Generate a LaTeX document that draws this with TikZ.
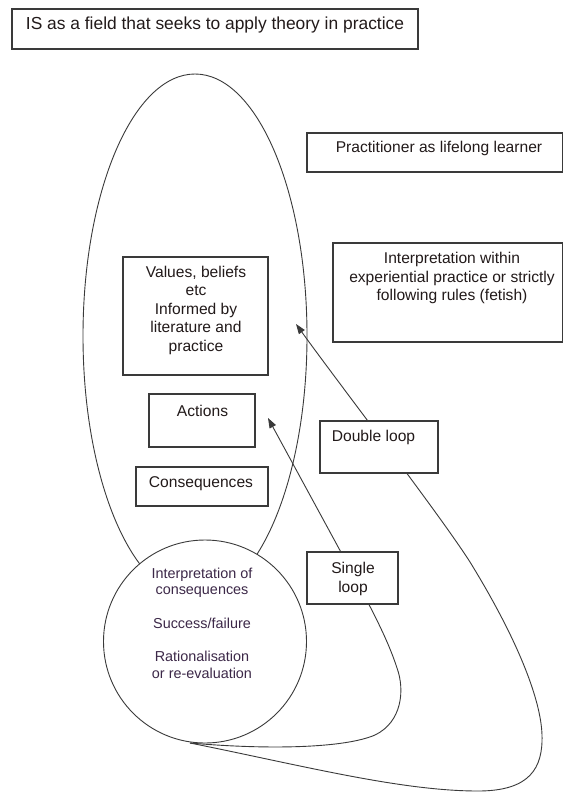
\documentclass[tikz,border=0pt]{standalone}
\usepackage{fontspec}
\setmainfont{Liberation Sans}
\usetikzlibrary{shapes.geometric,arrows.meta}
\definecolor{ink}{HTML}{3A3A3A}
\definecolor{txt}{HTML}{221A1A}
\definecolor{circtxt}{HTML}{3C2848}

\begin{document}
\begin{tikzpicture}[x=1pt,y=-1pt,
  frame/.style={draw=ink, line width=1.1pt, fill=white, inner sep=0pt},
  outline/.style={draw=ink, line width=0.9pt, inner sep=0pt},
  boxtext/.style={text=txt, font=\fontsize{15.6}{18.5}\selectfont, align=center, inner sep=0pt},
  loopline/.style={draw=ink, line width=0.9pt, -{Triangle[length=10pt,width=7pt]}}]
\useasboundingbox (0,0) rectangle (562,792);
\fill[white] (0,0) rectangle (562,792);

% heading
\node[frame, minimum width=406pt, minimum height=40pt] (title) at (215,29) {};
\node[boxtext, font=\fontsize{17.4}{20}\selectfont] (titletext) at (215,25)
  {IS as a field that seeks to apply theory in practice};

% the practitioner's field and the interpretation cycle
\node[outline, ellipse, minimum width=224pt, minimum height=524pt] (field) at (195,336) {};
\node[outline, fill=white, circle, minimum size=203pt] (cycle) at (205,641.5) {};
\node[boxtext, text=circtxt, font=\fontsize{14.4}{16.7}\selectfont] (cycletext) at (202,623)
  {Interpretation of\\consequences\\[16.7pt]Success/failure\\[16.7pt]Rationalisation\\or re-evaluation};

% loop connectors
\coordinate (loopstart) at (190,743);
\coordinate (singletip) at (268,418);
\coordinate (doubletip) at (296,324);

\draw[loopline] (loopstart) .. controls (270,750) and (345,748) .. (375,735)
  .. controls (402,722) and (405,690) .. (397,668)
  .. controls (388,640) and (372,610) .. (355,578) -- (singletip);

\draw[loopline] (loopstart) .. controls (300,765) and (400,791) .. (478,791)
  .. controls (530,791) and (543,768) .. (542,735)
  .. controls (541,700) and (518,640) .. (470,562)
  .. controls (440,515) and (340,385) .. (doubletip);

% boxes inside the field
\node[frame, minimum width=145pt, minimum height=118pt] (values) at (195.5,316) {};
\node[boxtext] (valuestext) at (196,310)
  {Values, beliefs\\etc\\Informed by\\literature and\\practice};

\node[frame, minimum width=106pt, minimum height=53pt] (actions) at (202,420.5) {};
\node[boxtext] (actionstext) at (202.5,410.5) {Actions};

\node[frame, minimum width=132pt, minimum height=39pt] (consequences) at (202,486.5) {};
\node[boxtext] (consequencestext) at (201,483.5) {Consequences};

% boxes outside the field
\node[frame, minimum width=256pt, minimum height=39pt] (learner) at (435,152.5) {};
\node[boxtext] (learnertext) at (439,148.5) {Practitioner as lifelong learner};

\node[frame, minimum width=230pt, minimum height=99pt] (rules) at (448,292.5) {};
\node[boxtext] (rulestext) at (452,278)
  {Interpretation within\\experiential practice or strictly\\following rules (fetish)};

\node[frame, minimum width=118pt, minimum height=52pt] (double) at (379,447) {};
\node[boxtext] (doubletext) at (373.5,437.5) {Double loop};

\node[frame, minimum width=91pt, minimum height=52pt] (single) at (352.5,578) {};
\node[boxtext] (singletext) at (353,579) {Single\\loop};
\end{tikzpicture}
\end{document}
